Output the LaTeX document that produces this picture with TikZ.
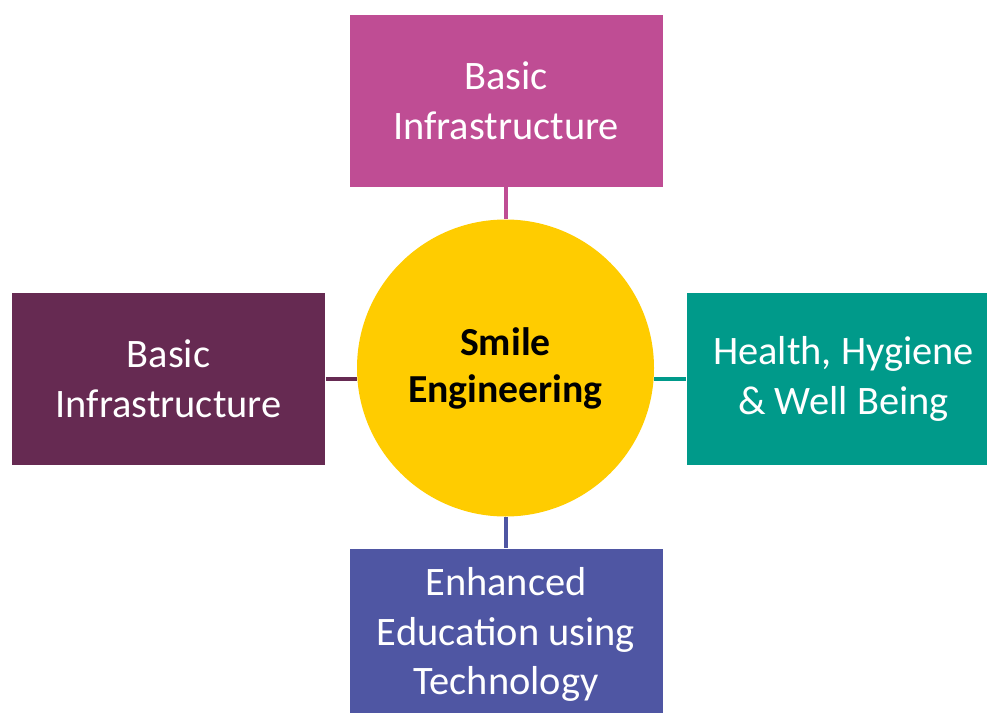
\documentclass[tikz,border=0pt]{standalone}
\usepackage{fontspec}
\setmainfont{Carlito}
\usepackage{xcolor}

\definecolor{infraPink}{HTML}{BF4D94}
\definecolor{infraPlum}{HTML}{662A52}
\definecolor{healthTeal}{HTML}{009A8A}
\definecolor{eduBlue}{HTML}{4F56A3}
\definecolor{smileGold}{HTML}{FFCC00}

\begin{document}
\begin{tikzpicture}[
    area/.style={rectangle, draw=white, line width=0.4pt, text=white, align=center,
                 minimum width=6.28cm, minimum height=3.46cm, inner sep=0pt,
                 font=\fontsize{23}{28.4}\selectfont},
    link/.style={line width=2.8pt}
]
    \useasboundingbox (0,0) rectangle (19.74,-14.26);

    % Nodos
    \node[circle, fill=smileGold, minimum size=5.94cm, inner sep=0pt, align=center,
          font=\bfseries\fontsize{22.6}{26.7}\selectfont] (S) at (10.11,-7.36) {Smile\\Engineering};
    \node[area, fill=infraPink] (T) at (10.12,-2.01) {Basic\\Infrastructure};
    \node[area, fill=infraPlum] (L) at (3.37,-7.58) {Basic\\Infrastructure};
    \node[area, fill=healthTeal] (R) at (16.87,-7.58) {Health, Hygiene\\\& Well Being};
    \node[area, fill=eduBlue] (B) at (10.12,-12.69) {Enhanced\\Education using\\Technology};

    % Lineas
    \draw[link, infraPink] (T.south) -- (T.south |- S.north);
    \draw[link, infraPlum] (L.east) -- (L.east -| S.west);
    \draw[link, healthTeal] (R.west) -- (R.west -| S.east);
    \draw[link, eduBlue] (B.north) -- (B.north |- S.south);

\end{tikzpicture}
\end{document}
